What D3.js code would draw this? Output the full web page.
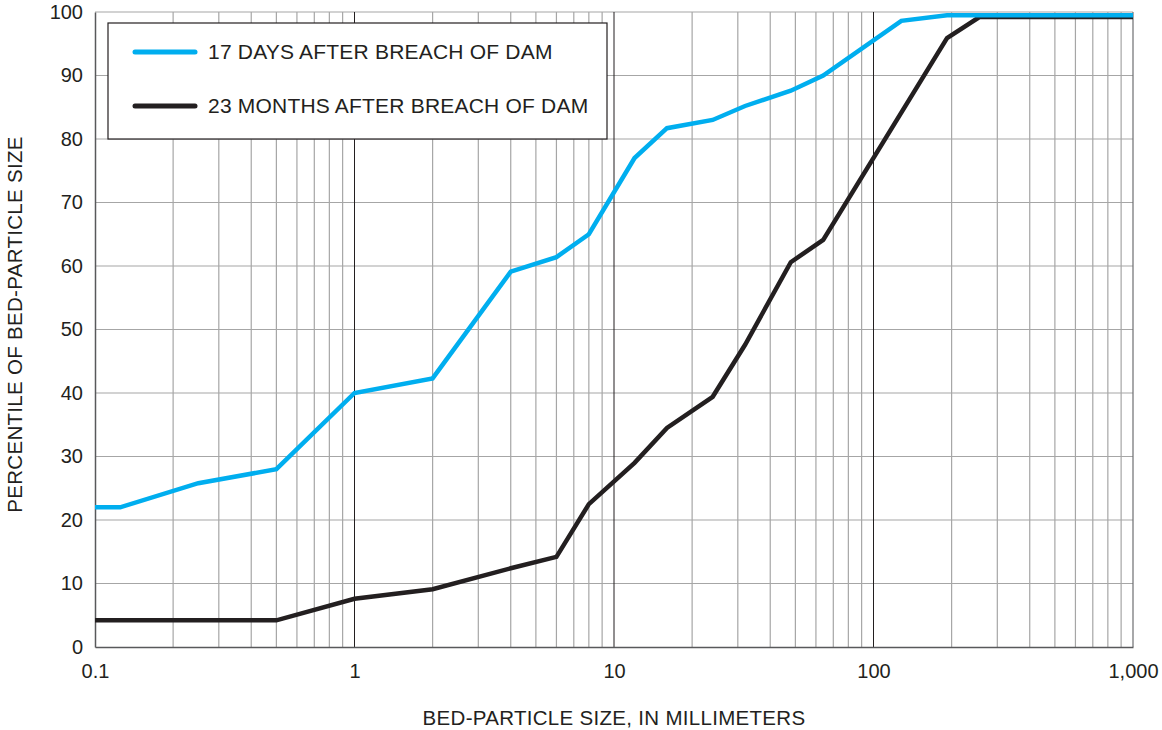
<!DOCTYPE html>
<html>
<head>
<meta charset="utf-8">
<script src="https://cdn.jsdelivr.net/npm/d3@7"></script>
<style>
  body { margin: 0; background: #fff; }
  svg { display: block; font-family: "Liberation Sans", Arial, sans-serif; }
</style>
</head>
<body>
<div id="chart"></div>
<script>
const chartWidth = 1162
const chartHeight = 730

// Bed-particle size (mm) and percentile
const sizes17Days = [0.1, 0.125, 0.25, 0.5, 1, 2, 4, 6, 8, 12, 16, 24, 32, 48, 64, 128, 192, 1000];
const pct17Days   = [22.0, 22.0, 25.8, 28.0, 40.0, 42.3, 59.1, 61.4, 65.0, 77.0, 81.7, 83.0, 85.2, 87.6, 90.0, 98.6, 99.5, 99.5];

const sizes23Months = [0.1, 0.5, 1, 2, 4, 6, 8, 12, 16, 24, 32, 48, 64, 192, 256, 1000];
const pct23Months   = [4.2, 4.2, 7.6, 9.1, 12.4, 14.2, 22.5, 29.0, 34.5, 39.4, 47.6, 60.6, 64.1, 95.9, 99.2, 99.2];

const xTickValues = [0.1, 1, 10, 100, 1000];
const xTickLabels = ["0.1", "1", "10", "100", "1,000"];
const yTickValues = [0, 10, 20, 30, 40, 50, 60, 70, 80, 90, 100];

const seriesNames = ["17 DAYS AFTER BREACH OF DAM", "23 MONTHS AFTER BREACH OF DAM"];
const seriesColors = ["#00aeef", "#231f20"];

function drawChart()
{
    var margin = { top: 12, right: 29, bottom: 83, left: 95 },
        width = chartWidth - margin.left - margin.right,
        height = chartHeight - margin.top - margin.bottom;

    var svg = d3.select("#chart")
        .append("svg")
        .attr("width", chartWidth)
        .attr("height", chartHeight)
        .append("g")
        .attr("transform", "translate(" + margin.left + "," + margin.top + ")");

    var x = d3.scaleLog()
        .domain([0.1, 1000])
        .range([0, width]);

    var y = d3.scaleLinear()
        .domain([0, 100])
        .range([height, 0]);

    // Minor vertical grid (2..9 in each decade)
    let minorX = [];
    for (let d = 0.1; d < 1000; d *= 10)
        for (let m = 2; m <= 9; m++) minorX.push(d * m);

    svg.append("g")
        .selectAll("line")
        .data(minorX)
        .join("line")
        .attr("x1", d => x(d)).attr("x2", d => x(d))
        .attr("y1", 0).attr("y2", height)
        .attr("stroke", "#a6a6a6")
        .attr("stroke-width", 1.2);

    // Horizontal grid
    svg.append("g")
        .selectAll("line")
        .data(yTickValues.slice(1))
        .join("line")
        .attr("x1", 0).attr("x2", width)
        .attr("y1", d => y(d)).attr("y2", d => y(d))
        .attr("stroke", "#a6a6a6")
        .attr("stroke-width", 1.2);

    // Decade lines
    svg.append("g")
        .selectAll("line")
        .data([1, 10, 100])
        .join("line")
        .attr("x1", d => x(d)).attr("x2", d => x(d))
        .attr("y1", 0).attr("y2", height)
        .attr("stroke", "#231f20")
        .attr("stroke-width", 1);

    // Frame
    svg.append("line")
        .attr("x1", width).attr("x2", width).attr("y1", 0).attr("y2", height)
        .attr("stroke", "#6d6e71").attr("stroke-width", 1.2);

    // Axes (no tick marks, labels only)
    var xAxis = svg.append("g")
        .attr("transform", "translate(0," + height + ")")
        .call(d3.axisBottom(x).tickValues(xTickValues)
            .tickFormat((d, i) => xTickLabels[i]).tickSize(0).tickPadding(17));
    xAxis.select(".domain").attr("stroke", "#58595b").attr("stroke-width", 1.5);

    var yAxis = svg.append("g")
        .call(d3.axisLeft(y).tickValues(yTickValues).tickSize(0).tickPadding(12));
    yAxis.select(".domain").attr("stroke", "#58595b").attr("stroke-width", 1.5);

    svg.selectAll(".tick text")
        .attr("fill", "#231f20")
        .style("font-size", "20px")
        .style("font-family", "'Liberation Sans', Arial, sans-serif");

    // Axis titles
    svg.append("text")
        .attr("x", width / 2)
        .attr("y", height + 78)
        .attr("text-anchor", "middle")
        .attr("fill", "#231f20")
        .style("font-size", "20.5px")
        .style("letter-spacing", "0.3px")
        .text("BED-PARTICLE SIZE, IN MILLIMETERS");

    svg.append("text")
        .attr("transform", "rotate(-90)")
        .attr("x", -height / 2 + 5)
        .attr("y", -margin.left + 22)
        .attr("text-anchor", "middle")
        .attr("fill", "#231f20")
        .style("font-size", "20.5px")
        .style("letter-spacing", "0.3px")
        .text("PERCENTILE OF BED-PARTICLE SIZE");

    // Series
    const series = [
        sizes17Days.map((s, i) => ({ x: s, y: pct17Days[i] })),
        sizes23Months.map((s, i) => ({ x: s, y: pct23Months[i] }))
    ];

    var line = d3.line()
        .x(d => x(d.x))
        .y(d => y(d.y));

    // black first so the blue sits on top at the plateau
    [1, 0].forEach(i => {
        svg.append("path")
            .datum(series[i])
            .attr("fill", "none")
            .attr("stroke", seriesColors[i])
            .attr("stroke-width", 4.5)
            .attr("stroke-linejoin", "miter")
            .attr("d", line);
    });

    // Legend
    var legend = svg.append("g")
        .attr("transform", "translate(" + (108 - margin.left) + "," + (23 - margin.top) + ")");

    legend.append("rect")
        .attr("width", 499)
        .attr("height", 116)
        .attr("fill", "#fff")
        .attr("stroke", "#231f20")
        .attr("stroke-width", 1.2);

    seriesNames.forEach((name, i) => {
        let ly = 29 + i * 54;
        legend.append("line")
            .attr("x1", 27).attr("x2", 87)
            .attr("y1", ly).attr("y2", ly)
            .attr("stroke", seriesColors[i])
            .attr("stroke-width", 5)
            .attr("stroke-linecap", "round");
        legend.append("text")
            .attr("x", 100)
            .attr("y", ly)
            .attr("dy", "0.35em")
            .attr("fill", "#231f20")
            .style("font-size", "21px")
            .style("letter-spacing", "0.2px")
            .text(name);
    });
}

drawChart();
</script>
</body>
</html>
